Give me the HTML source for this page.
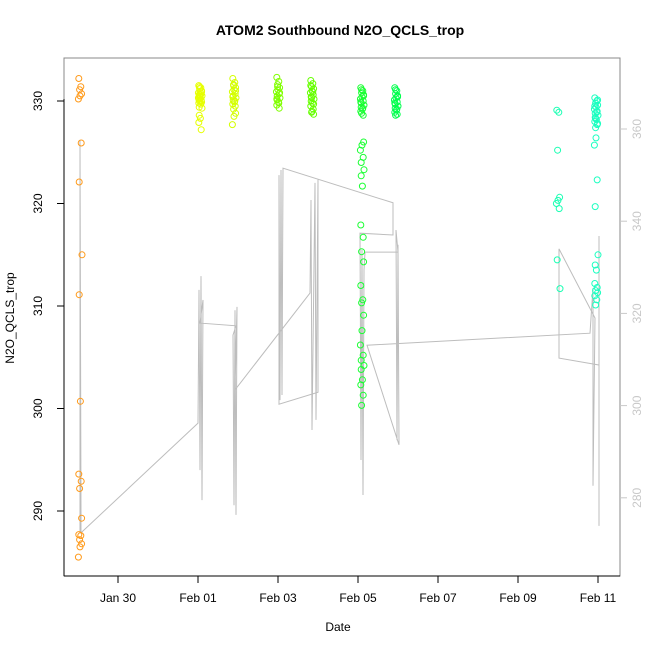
<!DOCTYPE html>
<html><head><meta charset="utf-8">
<style>
html,body{margin:0;padding:0;background:#fff;}
svg{display:block;font-family:"Liberation Sans",sans-serif;}
</style></head>
<body>
<svg id="chart" width="650" height="650" viewBox="0 0 650 650" xmlns="http://www.w3.org/2000/svg">
<text x="340" y="35" text-anchor="middle" font-size="14" font-weight="bold">ATOM2 Southbound N2O_QCLS_trop</text>
<text x="338" y="631" text-anchor="middle" font-size="12">Date</text>
<text transform="translate(14,318) rotate(-90)" text-anchor="middle" font-size="12">N2O_QCLS_trop</text>
<defs><clipPath id="plotclip"><rect x="64" y="58" width="556" height="518"/></clipPath></defs>
<g id="lineLayer" clip-path="url(#plotclip)"></g>
<g id="pointLayer" clip-path="url(#plotclip)"></g>
<rect x="64" y="58" width="556" height="518" fill="none" stroke="#888" stroke-width="1"/>
<line x1="64" y1="99" x2="64" y2="576" stroke="#000"/>
<line x1="64" y1="576" x2="620" y2="576" stroke="#000"/>
<g id="axes"></g>
</svg>
<script>
// x ticks (days relative to Jan 30)
const xTickDays = [0, 2, 4, 6, 8, 10, 12];
const xTickLabels = ["Jan 30", "Feb 01", "Feb 03", "Feb 05", "Feb 07", "Feb 09", "Feb 11"];
const yLeftTicks = [290, 300, 310, 320, 330];
const yRightTicks = [280, 300, 320, 340, 360];

// scatter clusters
const clusterDays = [-0.95, 2.05, 2.9, 4.0, 4.85, 6.1, 6.95, 11.0, 11.95];
const clusterColors = ["#FF9A1A", "#E6FF00", "#D4FF00", "#80FF00", "#66FF00", "#1AFF33", "#00FF4D", "#1AFFB3", "#1AFFC0"];
const jitter = [-0.03, 0.02, -0.01, 0.04, 0, -0.04, 0.03, -0.02, 0.05, -0.02, 0.01, -0.03, 0.03, -0.01, 0.04];
const c0 = [332.2,331.4,331.1,330.7,330.5,330.2,325.9,322.1,315.0,311.1,300.7,293.6,292.9,292.2,289.3,287.7,287.6,287.2,286.8,286.5,285.5];
const c1 = [331.5,331.3,331.2,331.0,330.9,330.8,330.7,330.6,330.5,330.4,330.3,330.2,330.1,330.0,329.9,329.8,329.7,331.4,330.9,330.6,330.3,330.0,329.4,329.3,328.6,328.3,327.9,327.2];
const c2 = [332.2,331.8,331.5,331.3,331.1,330.9,330.7,330.5,330.3,330.1,329.9,329.7,329.5,331.6,331.0,330.4,330.0,329.2,328.8,328.5,327.7];
const c3 = [332.3,331.9,331.6,331.3,331.1,330.9,330.7,330.5,330.3,330.1,329.9,329.6,329.3,331.4,330.8,330.2,329.8];
const c4 = [332.0,331.7,331.4,331.2,331.0,330.8,330.6,330.4,330.2,330.0,329.8,329.5,329.2,328.9,328.7,331.5,330.9,330.3,329.7,329.0];
const c5 = [331.3,331.0,330.8,330.6,330.4,330.2,330.0,329.8,329.6,329.4,329.2,329.0,328.6,331.1,330.5,329.9,329.3,328.8,326.0,325.7,325.2,324.5,324.0,323.3,322.7,321.7,317.9,316.7,315.3,314.3,312.0,310.6,310.3,309.1,307.6,306.2,305.2,304.7,304.2,303.8,302.8,302.3,301.3,300.3];
const c6 = [331.3,331.0,330.7,330.5,330.3,330.1,329.9,329.7,329.5,329.3,329.1,328.9,328.7,331.1,330.4,329.8,329.2,328.6];
const c7 = [329.1,328.9,325.2,320.6,320.3,320.0,319.5,314.5,311.7];
const c8 = [330.3,330.0,329.8,329.6,329.4,329.2,329.0,328.8,328.6,328.4,328.2,328.0,327.7,327.4,330.1,329.5,328.9,328.3,327.8,326.4,325.7,322.3,319.7,315.0,314.0,313.5,312.2,311.8,311.5,311.3,311.0,310.6,310.1];
const clusterValues = [c0, c1, c2, c3, c4, c5, c6, c7, c8];

// gray line (right axis)
const lineDays = [-0.95,-0.95,-0.925,-0.95,-0.925,-0.9,2.0,2.025,2.05,2.075,2.1,2.125,2.05,2.95,2.875,2.9,2.925,2.95,2.975,2.925,4.8,4.825,4.85,4.925,4.95,5.0,5.0,4.025,4.025,4.05,4.075,4.1,4.125,6.875,6.875,6.05,6.075,6.1,6.125,6.15,6.175,7.0,6.95,6.975,7.0,7.025,6.225,11.8,11.875,11.875,11.925,11.025,11.025,12.025,12.025,12.025];
const lineValues = [272.4,357.6,275.2,322.9,272.4,272.6,296.2,325.1,286.0,328.1,279.5,322.9,317.9,317.3,315.3,278.4,320.7,276.3,321.4,303.4,324.4,344.6,294.7,348.3,296.9,349.0,302.9,300.3,350.0,301.2,351.1,302.3,351.5,344.0,337.0,337.4,288.2,333.8,280.6,329.4,333.3,333.3,338.1,292.5,334.9,291.5,313.1,315.7,325.5,282.6,319.0,334.0,310.3,308.8,336.8,273.9];

const NS = "http://www.w3.org/2000/svg";
function xS(d){ return 118 + 40 * d; }
function yL(u){ return 101 + (330 - u) * 10.25; }
function yR(v){ return 129 + (360 - v) * 4.61; }
function mk(tag, attrs, parent){ const e = document.createElementNS(NS, tag); for (const k in attrs) e.setAttribute(k, attrs[k]); parent.appendChild(e); return e; }

const lineLayer = document.getElementById('lineLayer');
const pts = lineDays.map((d, i) => xS(d).toFixed(1) + ',' + yR(lineValues[i]).toFixed(1)).join(' ');
const pl = mk('polyline', {points: pts, fill: 'none', stroke: '#bdbdbd', 'stroke-width': 1}, lineLayer);



const pointLayer = document.getElementById('pointLayer');
clusterValues.forEach((vals, ci) => {
  vals.forEach((u, i) => {
    const c = mk('circle', {cx: xS(clusterDays[ci] + jitter[i % jitter.length]).toFixed(1), cy: yL(u).toFixed(1), r: 3, fill: 'none', stroke: clusterColors[ci], 'stroke-width': 1}, pointLayer);
    
    
  });
});

const axes = document.getElementById('axes');
xTickDays.forEach((d, i) => {
  const t = mk('line', {x1: xS(d), y1: 576, x2: xS(d), y2: 583, stroke: '#000'}, axes);
  
  
  const l = mk('text', {x: xS(d), y: 602, 'text-anchor': 'middle', 'font-size': 12}, axes);
  l.textContent = xTickLabels[i];
  
  
});
yLeftTicks.forEach(u => {
  const t = mk('line', {x1: 57, y1: yL(u), x2: 64, y2: yL(u), stroke: '#000'}, axes);
  
  
  const l = mk('text', {transform: 'translate(42,' + yL(u) + ') rotate(-90)', 'text-anchor': 'middle', 'font-size': 12}, axes);
  l.textContent = u;
  
  
});
yRightTicks.forEach(v => {
  const t = mk('line', {x1: 620, y1: yR(v), x2: 627, y2: yR(v), stroke: '#c8c8c8'}, axes);
  
  
  const l = mk('text', {transform: 'translate(632,' + yR(v) + ') rotate(-90)', 'text-anchor': 'middle', 'font-size': 12, fill: '#c8c8c8', 'dominant-baseline': 'hanging'}, axes);
  l.textContent = v;
  
  
});
</script>
</body></html>
